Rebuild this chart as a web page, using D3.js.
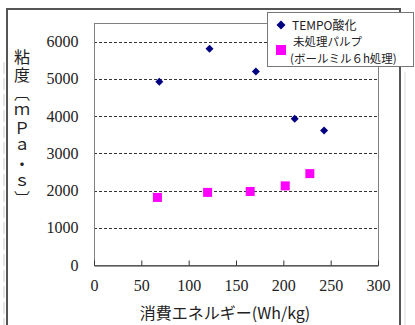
<!DOCTYPE html>
<html><head><meta charset="utf-8">
<script src="https://cdn.jsdelivr.net/npm/d3@7"></script>
<style>body{margin:0;background:#fff}svg{display:block}</style>
</head><body>
<svg id="c" width="415" height="325"></svg>
<script>
// ---- data ----
const seriesNames = ["TEMPO酸化", "未処理パルプ", "(ボールミル６h処理)"];
const tempoX = [69, 122, 171, 212, 243];
const tempoY = [4920, 5810, 5200, 3930, 3610];
const pulpX = [67, 120, 165, 202, 228];
const pulpY = [1815, 1950, 1975, 2125, 2455];
const xTicks = [0, 50, 100, 150, 200, 250, 300];
const yTicks = [0, 1000, 2000, 3000, 4000, 5000, 6000];
const xTitle = "消費エネルギー(Wh/kg)";
const yTitle = "粘度〔ｍＰａ・ｓ〕";

// ---- layout ----
const svg = d3.select("#c");
const L = 94, R = 378, T = 23, B = 265;
const x = d3.scaleLinear().domain([0, 300]).range([L, R]);
const y = d3.scaleLinear().domain([0, 6500]).range([B, T]);
const serif = "'Liberation Serif', 'DejaVu Serif', serif";
const jp = "'Noto Sans CJK JP', sans-serif";

// outer frame
svg.append("line").attr("x1", 4).attr("x2", 4).attr("y1", 62).attr("y2", 325)
  .attr("stroke", "#ccc").attr("stroke-width", 1).attr("stroke-dasharray", "12,4");
svg.append("path").attr("d", "M7,325 V9 H400 V325")
  .attr("fill", "none").attr("stroke", "#555").attr("stroke-width", 2);
svg.append("line").attr("x1", 405).attr("x2", 405).attr("y1", 72).attr("y2", 325)
  .attr("stroke", "#ddd").attr("stroke-width", 1);

// gridlines
svg.append("g").selectAll("line").data(yTicks.filter(d => d > 0)).join("line")
  .attr("x1", L).attr("x2", R).attr("y1", d => Math.round(y(d)) + 0.5).attr("y2", d => Math.round(y(d)) + 0.5)
  .attr("stroke", "#333").attr("stroke-width", 1).attr("stroke-dasharray", "3,2");

// plot border
svg.append("rect").attr("x", L + 0.5).attr("y", T + 0.5).attr("width", R - L).attr("height", B - T)
  .attr("fill", "none").attr("stroke", "#808080").attr("stroke-width", 1);

// x axis (inside ticks)
const xa = svg.append("g").attr("transform", `translate(0,${B + 0.5})`)
  .call(d3.axisBottom(x).tickValues(xTicks).tickFormat(d3.format("d")).tickSizeInner(-5).tickSizeOuter(0).tickPadding(14));
xa.attr("font-family", null);
xa.select(".domain").attr("stroke", "#333");
xa.selectAll(".tick line").attr("stroke", "#333");
xa.selectAll("text").style("font-family", serif).style("font-size", "16px").attr("fill", "#222");

// y axis labels
const ya = svg.append("g").attr("transform", `translate(${L + 0.5},0)`)
  .call(d3.axisLeft(y).tickValues(yTicks).tickFormat(d3.format("d")).tickSize(0).tickPadding(16));
ya.attr("font-family", null);
ya.select(".domain").remove();
ya.selectAll("text").style("font-family", serif).style("font-size", "16px").attr("fill", "#222");

// axis titles
svg.append("text").attr("x", 225).attr("y", 319).attr("text-anchor", "middle")
  .style("font-family", jp).style("font-size", "16px").attr("fill", "#222").text(xTitle);
svg.append("text").attr("x", 22).attr("y", 49)
  .style("writing-mode", "vertical-rl").style("text-orientation", "upright")
  .style("font-family", jp).style("font-size", "16px").style("letter-spacing", "1.8px")
  .attr("fill", "#222").text(yTitle);

// points
svg.append("g").selectAll("path").data(tempoX.map((v, i) => [v, tempoY[i]])).join("path")
  .attr("d", d3.symbol().type(d3.symbolSquare).size(32)())
  .attr("transform", d => `translate(${x(d[0])},${y(d[1])}) rotate(45)`)
  .attr("fill", "#000080");
svg.append("g").selectAll("rect").data(pulpX.map((v, i) => [v, pulpY[i]])).join("rect")
  .attr("x", d => x(d[0]) - 4.5).attr("y", d => y(d[1]) - 4.5).attr("width", 9).attr("height", 9)
  .attr("fill", "#ff00ff");

// legend
const lg = svg.append("g");
lg.append("rect").attr("x", 267.5).attr("y", 12.5).attr("width", 146).attr("height", 54)
  .attr("fill", "#fff").attr("stroke", "#777").attr("stroke-width", 1);
lg.append("path").attr("d", d3.symbol().type(d3.symbolSquare).size(40)())
  .attr("transform", "translate(281,25) rotate(45)").attr("fill", "#000080");
lg.append("rect").attr("x", 276).attr("y", 45).attr("width", 10).attr("height", 10).attr("fill", "#ff00ff");
lg.append("text").attr("x", 292).attr("y", 29.5).style("font-family", jp).style("font-size", "12px")
  .attr("fill", "#222").text(seriesNames[0]);
const t2 = lg.append("text").attr("y", 46).style("font-family", jp).style("font-size", "11.5px").attr("fill", "#222");
t2.append("tspan").attr("x", 293).text(seriesNames[1]);
t2.append("tspan").attr("x", 290).attr("dy", 16.5).text(seriesNames[2]);
</script>
</body></html>
